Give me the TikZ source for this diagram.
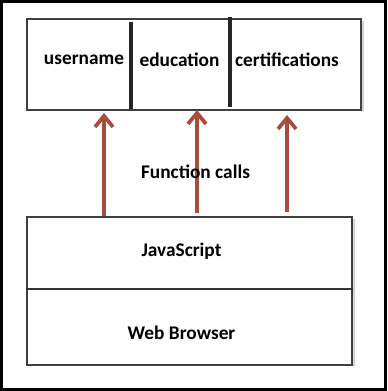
\documentclass[tikz,border=0pt]{standalone}
\usepackage{fontspec}
\setmainfont{Carlito}
\usetikzlibrary{arrows.meta,shadows}

\definecolor{callred}{RGB}{168,76,60}
\definecolor{boxline}{RGB}{60,64,66}

\tikzset{
    layer/.style={draw=boxline, line width=0.025cm, fill=white,
        drop shadow={shadow xshift=0.06cm, shadow yshift=-0.03cm, fill=black!35}},
    label/.style={font=\fontsize{11}{13}\bfseries\selectfont, inner sep=0pt},
    divider/.style={draw=black!85, line width=0.065cm},
    call/.style={draw=callred, line width=0.075cm,
        -{Straight Barb[length=0.22cm, width=0.36cm, line width=0.075cm]}}
}

\begin{document}
\begin{tikzpicture}[x=0.02cm, y=-0.02cm]
    \useasboundingbox (0,0) rectangle (387,391);
    \draw[line width=0.06cm] (1.5,1.5) rectangle (385.5,389.5);

    % the data held on the page
    \node[layer, minimum width=6.68cm, minimum height=1.82cm] (fields) at (194,64.5) {};
    \node[label] (username) at (84,60) {username};
    \node[label] (education) at (179.5,60) {education};
    \node[label] (certs) at (287,60) {certifications};
    \draw[divider] (131,22) -- (131,109);
    \draw[divider] (230,17) -- (230,107);

    % script layer on top of the browser
    \node[layer, minimum width=6.5cm, minimum height=2.96cm] (stack) at (189.5,291) {};
    \node[label] (js) at (181.5,251) {JavaScript};
    \node[label] (browser) at (181.5,333) {Web Browser};
    \draw[draw=black!80, line width=0.05cm] (stack.west |- 0,289) -- (stack.east |- 0,289);

    % calls from the script up to the fields
    \coordinate (c1) at (104,113);
    \coordinate (c2) at (197,110);
    \coordinate (c3) at (287,115);
    \draw[call] (c1 |- stack.north) -- (c1);
    \draw[call] (c2 |- 0,213) -- (c2);
    \draw[call] (c3 |- 0,212) -- (c3);
    \node[label] (calls) at (195.5,172) {Function calls};
\end{tikzpicture}
\end{document}
